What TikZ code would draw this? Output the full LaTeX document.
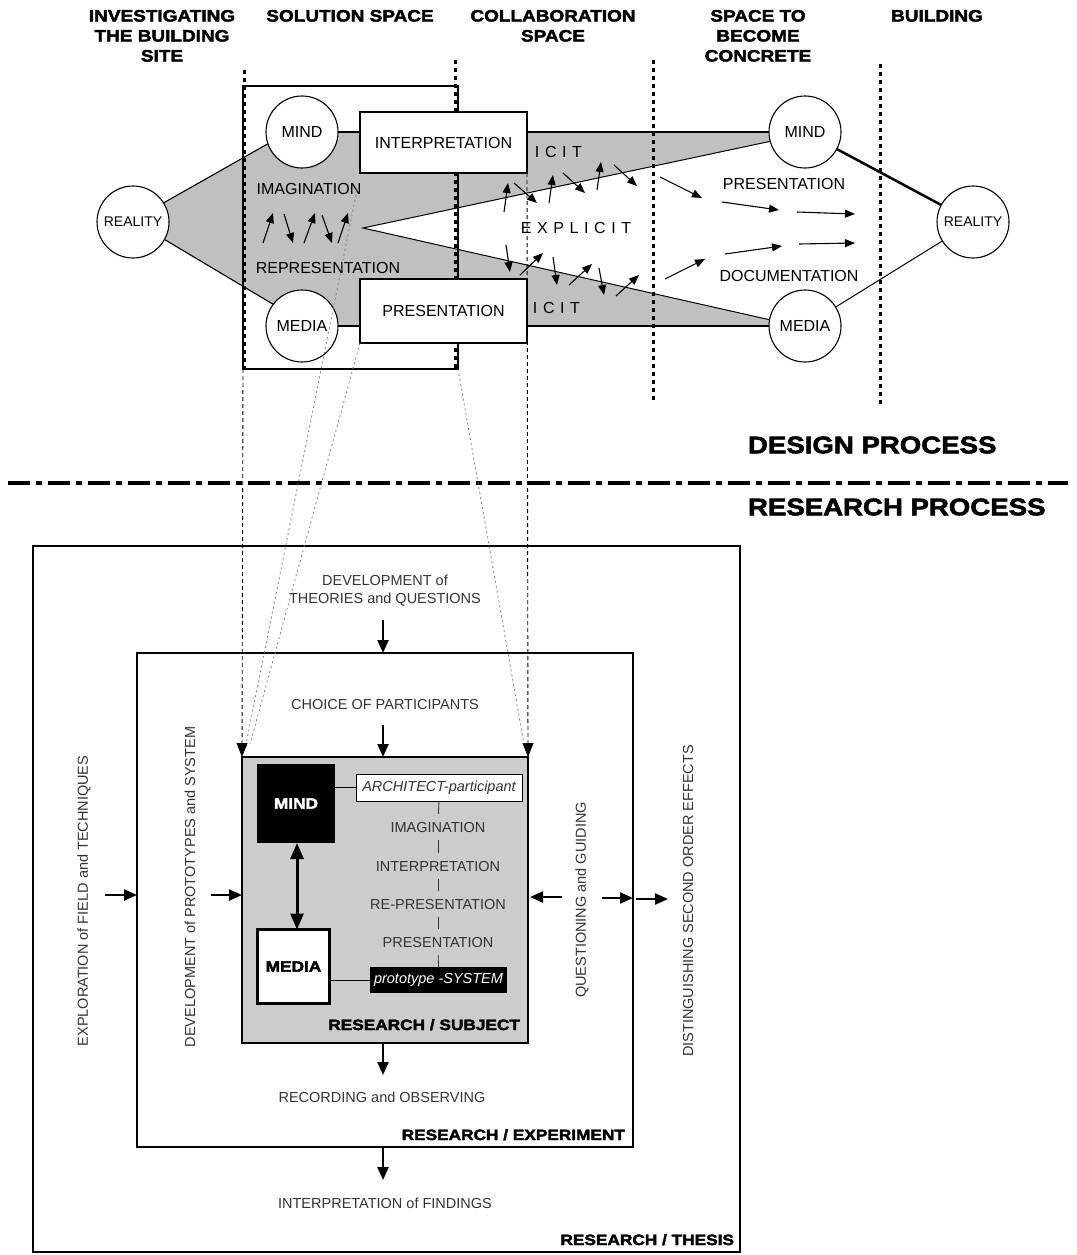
\documentclass[tikz,border=0pt]{standalone}
\usepackage{fontspec}
\setmainfont{Liberation Sans}
\newfontfamily\heavyfont[FakeBold=2.4,FakeStretch=1.15]{Liberation Sans}
\usetikzlibrary{arrows.meta,backgrounds}
\definecolor{wedgegray}{RGB}{192,192,192}
\definecolor{subjgray}{RGB}{204,204,204}
\definecolor{inkgray}{RGB}{51,51,51}
\begin{document}
\begin{tikzpicture}[x=1pt,y=-1pt,
  every node/.style={inner sep=0pt,outer sep=0pt},
  hv/.style={font=\heavyfont\bfseries\fontsize{16.5}{20}\selectfont,align=center,anchor=north},
  hvbig/.style={font=\heavyfont\bfseries\fontsize{24}{26}\selectfont,anchor=west},
  hvmid/.style={font=\heavyfont\bfseries\fontsize{15}{18}\selectfont},
  lbl/.style={font=\fontsize{16}{19}\selectfont},
  spaced/.style={font=\fontsize{16}{19}\selectfont\addfontfeature{LetterSpace=35}},
  small/.style={font=\fontsize{14.5}{18}\selectfont,text=inkgray},
  circ/.style={circle,draw,line width=1.1pt,fill=white,minimum size=72pt},
  tbox/.style={draw,line width=2.8pt,fill=white},
  sep/.style={line width=3pt,dash pattern=on 4pt off 4pt},
  proj/.style={line width=0.9pt,dash pattern=on 4pt off 3pt},
  faint/.style={line width=0.8pt,gray,dash pattern=on 2pt off 3pt},
  ptip/.style={-{Triangle[length=14pt,width=11pt]}},
  flow/.style={line width=1.1pt,-{Triangle[length=10pt,width=8pt]}},
  feed/.style={line width=2.3pt,-{Triangle[length=13pt,width=11pt]}},
  chain/.style={line width=0.8pt,inkgray},
]
\useasboundingbox (0,0) rectangle (1076,1255);

% ---------- column headings ----------
\node[hv] (hsite) at (162,10) {INVESTIGATING\\THE BUILDING\\SITE};
\node[hv] (hsol) at (350,10) {SOLUTION SPACE};
\node[hv] (hcol) at (553,10) {COLLABORATION\\SPACE};
\node[hv] (hcon) at (758,10) {SPACE TO\\BECOME\\CONCRETE};
\node[hv] (hbld) at (937,10) {BUILDING};

% ---------- design process ----------
\node[circ,font=\fontsize{14}{14}\selectfont] (realL) at (133,222) {REALITY};
\node[circ,lbl] (mindL) at (302,132) {MIND};
\node[circ,lbl] (mediaL) at (302,326) {MEDIA};
\node[circ,lbl] (mindR) at (805,132) {MIND};
\node[circ,lbl] (mediaR) at (805,326) {MEDIA};
\node[circ,font=\fontsize{14}{14}\selectfont] (realR) at (973,222) {REALITY};
\node[tbox,lbl,minimum width=167pt,minimum height=61pt] (interp) at (443.5,142.5) {INTERPRETATION};
\node[tbox,lbl,minimum width=167pt,minimum height=64pt] (pres) at (443.5,311) {PRESENTATION};
\coordinate (apex) at (363,228);
\coordinate (solSW) at (243,369);
\coordinate (solSE) at (458,369);

% ---------- research process boxes ----------
\node[draw,line width=2.5pt,minimum width=707pt,minimum height=706pt] (thesis) at (386.5,899) {};
\node[draw,line width=2.8pt,minimum width=496pt,minimum height=494pt] (experiment) at (385,900) {};
\node[draw,line width=2.8pt,fill=subjgray,minimum width=286pt,minimum height=286pt] (subject) at (385,900) {};

\begin{scope}[on background layer]
  \fill[white] (0,0) rectangle (1076,1255);
  % shaded field between reality, mind and media, open towards the building
  \fill[wedgegray] (realL.32) -- (mindL.199) -- (mindL.center) -- (mindR.center)
     -- (mindR.195) -- (apex) -- (mediaR.170)
     -- (mediaR.center) -- (mediaL.center) -- (mediaL.143) -- (realL.331) -- cycle;
  \draw[line width=1pt] (mindR.195) -- (apex) -- (mediaR.170);
  \draw[line width=1.1pt] (realL.32) -- (mindL.199);
  \draw[line width=1.1pt] (realL.331) -- (mediaL.143);
  \draw[line width=2.8pt] (mindL.east) -- (mindL.east -| interp.west);
  \draw[line width=2.8pt] (mediaL.east) -- (mediaL.east -| pres.west);
  \draw[line width=2.8pt] (interp.east |- mindR.west) -- (mindR.west);
  \draw[line width=2.8pt] (pres.east |- mediaR.west) -- (mediaR.west);
  \draw[line width=2.5pt] (mindR) -- (realR);
  \draw[line width=1pt] (mediaR) -- (realR);
  % phase boundaries
  \draw[sep] (244,70) -- (244,370);
  \draw[sep] (455,60) -- (455,370);
  \draw[sep] (653,60) -- (653,402);
  \draw[sep] (880,64) -- (880,404);
  % solution space frame
  \draw[line width=2.8pt] (243,86) rectangle (458,369);
\end{scope}

% labels in the shaded field
\node[lbl] (imagT) at (309,189) {IMAGINATION};
\node[lbl] (repT) at (328,268) {REPRESENTATION};
\node[spaced,anchor=east] (icitU) at (582,152) {ICIT};
\node[spaced,anchor=east] (icitL) at (580,308) {ICIT};
\node[spaced] (explT) at (576,228) {EXPLICIT};
\node[lbl] (presT) at (784,184) {PRESENTATION};
\node[lbl] (docT) at (789,276) {DOCUMENTATION};

% exchange arrows
\foreach \a/\b/\c/\d in {263/243/273/213, 284/214/293/243, 304/243/315/213, 322/215/332/243, 338/243/348/213,
  504/212/508/183, 514/183/537/203, 549/203/553/175, 563/173/585/193, 597/190/601/162, 614/165/637/186,
  506/245/510/272, 520/275/543/253, 553/257/557/285, 569/285/592/264, 599/268/604/295, 616/296/639/275,
  660/177/702/198, 722/202/779/210, 797/212/855/214, 665/279/705/259, 725/254/782/246, 799/244/855/243}
  \draw[flow] (\a,\b) -- (\c,\d);

% ---------- separation of the two processes ----------
\draw[line width=4pt,dash pattern=on 22pt off 6pt on 6pt off 6pt] (8,483) -- (1068,483);
\node[hvbig] (design) at (748,445) {DESIGN PROCESS};
\node[hvbig] (research) at (748,507) {RESEARCH PROCESS};

% ---------- projections onto the research subject ----------
\draw[proj,ptip] (solSW) -- (subject.north west);
\draw[proj,ptip] (interp.south east) -- (subject.north east);
\coordinate (endA) at (246,744);
\coordinate (endB) at (250,744);
\coordinate (endC) at (524,744);
\draw[faint] (357,190) -- (endA);
\draw[faint] (pres.south west) -- (endB);
\draw[faint] (solSE) -- (endC);

% ---------- research subject contents ----------
\node[fill=black,text=white,hvmid,minimum width=78pt,minimum height=79pt] (mindbox) at (296,803.5) {MIND};
\node[draw,line width=2.8pt,fill=white,hvmid,minimum width=72pt,minimum height=74pt] (mediabox) at (293.5,966.5) {MEDIA};
\draw[line width=3pt,{Triangle[length=16pt,width=13pt]}-{Triangle[length=16pt,width=13pt]}]
  ([xshift=1pt]mindbox.south) -- ([xshift=1pt]mindbox.south |- mediabox.north);
\node[draw,line width=0.9pt,fill=white,minimum width=166pt,minimum height=27pt,
  font=\itshape\fontsize{14.5}{18}\selectfont,text=inkgray] (arch) at (439,787.5) {ARCHITECT-participant};
\node[small] (imagS) at (438,827) {IMAGINATION};
\node[small] (interpS) at (438,866) {INTERPRETATION};
\node[small] (repS) at (438,904) {RE-PRESENTATION};
\node[small] (presS) at (438,942) {PRESENTATION};
\node[fill=black,text=white,minimum width=137pt,minimum height=26pt,
  font=\itshape\fontsize{14.5}{18}\selectfont] (proto) at (438.5,980) {prototype -SYSTEM};
\draw[line width=0.9pt] (mindbox.east |- arch.west) -- (arch.west);
\draw[line width=0.9pt] (mediabox.east |- proto.west) -- (proto.west);
\draw[chain,shorten >=8pt] (arch.south) -- (imagS.north);
\draw[chain,shorten <=8pt,shorten >=8pt] (imagS.south) -- (interpS.north);
\draw[chain,shorten <=8pt,shorten >=8pt] (interpS.south) -- (repS.north);
\draw[chain,shorten <=8pt,shorten >=8pt] (repS.south) -- (presS.north);
\draw[chain,shorten <=8pt] (presS.south) -- (proto.north);
\node[hvmid,anchor=base east] (subjT) at (520,1030) {RESEARCH / SUBJECT};

% ---------- research activities ----------
\node[small,align=center,font=\fontsize{14.5}{18}\selectfont] (theory) at (385,591) {DEVELOPMENT of\\THEORIES and QUESTIONS};
\node[small] (choice) at (385,704) {CHOICE OF PARTICIPANTS};
\node[small] (record) at (382,1097) {RECORDING and OBSERVING};
\node[small] (findings) at (385,1203) {INTERPRETATION of FINDINGS};
\node[small,rotate=90] (explore) at (84,901) {EXPLORATION of FIELD and TECHNIQUES};
\node[small,rotate=90] (develop) at (190,887) {DEVELOPMENT of PROTOTYPES and SYSTEM};
\node[small,rotate=90] (question) at (582,900) {QUESTIONING and GUIDING};
\node[small,rotate=90] (distinct) at (688,901) {DISTINGUISHING SECOND ORDER EFFECTS};
\node[hvmid,anchor=base east] (expT) at (625,1140) {RESEARCH / EXPERIMENT};
\node[hvmid,anchor=base east] (thesT) at (734,1245) {RESEARCH / THESIS};

\draw[feed] ([xshift=-2pt,yshift=33pt]experiment.north) -- ([xshift=-2pt]experiment.north);
\draw[feed] ([xshift=-2pt,yshift=32pt]subject.north) -- ([xshift=-2pt]subject.north);
\draw[feed] ([xshift=-2pt]subject.south) -- ([xshift=-2pt,yshift=-32pt]subject.south);
\draw[feed] ([xshift=-2pt]experiment.south) -- ([xshift=-2pt,yshift=-33pt]experiment.south);
\draw[feed] ([xshift=-32pt,yshift=5pt]experiment.west) -- ([yshift=5pt]experiment.west);
\draw[feed] ([xshift=-31pt,yshift=5pt]subject.west) -- ([yshift=5pt]subject.west);
\draw[feed] ([xshift=34pt,yshift=3pt]subject.east) -- ([xshift=2pt,yshift=3pt]subject.east);
\draw[feed] ([xshift=-31pt,yshift=2pt]experiment.east) -- ([yshift=2pt]experiment.east);
\draw[feed] ([xshift=3pt,yshift=1pt]experiment.east) -- ([xshift=35pt,yshift=1pt]experiment.east);
\end{tikzpicture}
\end{document}
